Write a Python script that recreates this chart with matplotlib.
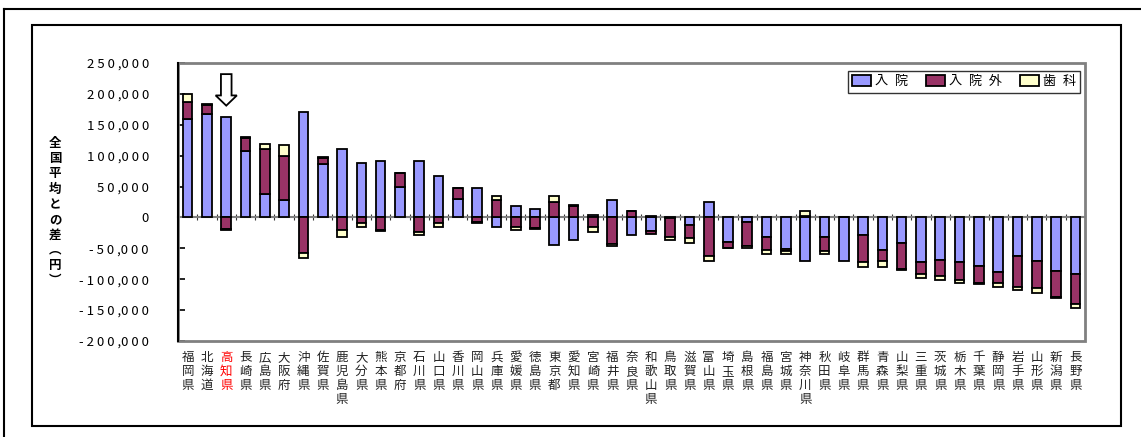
import matplotlib
matplotlib.use("Agg")
import matplotlib.pyplot as plt
import numpy as np
from matplotlib.patches import Rectangle, FancyArrow
from matplotlib.lines import Line2D
from matplotlib.ticker import FuncFormatter, MultipleLocator

plt.rcParams['font.family'] = ['Noto Sans CJK JP', 'DejaVu Sans']

prefectures = ['福岡県', '北海道', '高知県', '長崎県', '広島県', '大阪府', '沖縄県', '佐賀県',
               '鹿児島県', '大分県', '熊本県', '京都府', '石川県', '山口県', '香川県', '岡山県',
               '兵庫県', '愛媛県', '徳島県', '東京都', '愛知県', '宮崎県', '福井県', '奈良県',
               '和歌山県', '鳥取県', '滋賀県', '富山県', '埼玉県', '島根県', '福島県', '宮城県',
               '神奈川県', '秋田県', '岐阜県', '群馬県', '青森県', '山梨県', '三重県', '茨城県',
               '栃木県', '千葉県', '静岡県', '岩手県', '山形県', '新潟県', '長野県']

# 全国平均との差（円）
inpatient = [160000, 167000, 163000, 108000, 38000, 28000, 171000, 87000,
             111000, 88000, 91000, 49000, 91000, 67500, 30000, 47000,
             -16000, 18000, 13000, -44000, -37000, 4500, 28000, -28500,
             -22500, -500, -12500, 25500, -39500, -7500, -32000, -51000,
             -71000, -31000, -71000, -28500, -52500, -41500, -72500, -68500,
             -72500, -78500, -88000, -62000, -70000, -86000, -92000]
outpatient = [27000, 15000, -19000, 21000, 73000, 72000, -58000, 10000,
              -21000, -9000, -20000, 23000, -24000, -9500, 17000, -8000,
              27500, -16000, -17000, 25000, 18000, -16000, -42500, 10000,
              -3500, -31000, -21500, -63000, -10000, -38000, -20500, -3000,
              3000, -23500, 0, -44000, -18000, -42000, -19500, -27000,
              -28500, -28000, -18500, -51000, -44500, -43500, -48500]
dental = [13000, 2000, -1500, 500, 8000, 17000, -7000, 1500,
          -11000, -6000, -1500, 500, -4500, -6000, 1000, -1000,
          6500, -4000, -1500, 9000, 2000, -7500, -4500, 1000,
          2000, -5500, -7000, -7000, -500, -4500, -7000, -5000,
          7500, -5000, 0, -8000, -10000, -1500, -6000, -6000,
          -5500, -500, -5500, -4500, -8000, -1500, -5500]

series = [(inpatient, '#9999FF', '入\u2002院'),
          (outpatient, '#993366', '入\u2002院\u2002外'),
          (dental, '#FFFFCC', '歯\u2002科')]
highlight = '高知県'

fig = plt.figure(figsize=(11.41, 4.37), dpi=100)
ax = fig.add_axes([178 / 1141, 1 - 341 / 437, 907 / 1141, 278 / 437])

n = len(prefectures)
x = np.arange(n)
pos = np.zeros(n)
neg = np.zeros(n)
for vals, color, label in series:
    v = np.array(vals, dtype=float)
    bottom = np.where(v >= 0, pos, neg)
    ax.bar(x, v, width=0.5, bottom=bottom, color=color, edgecolor='black',
           linewidth=1.3, label=label, zorder=3)
    pos += np.clip(v, 0, None)
    neg += np.clip(v, None, 0)

ax.set_xlim(-0.5, n - 0.5)
ax.set_ylim(-200000, 250000)


def spaced(v, _):
    v = int(round(v))
    if v == 0:
        return '0'
    groups = f"{abs(v):,}".split(',')
    s = ' ,'.join(' '.join(g) for g in groups)
    return ('- ' if v < 0 else '') + s


ax.yaxis.set_major_locator(MultipleLocator(50000))
ax.yaxis.set_major_formatter(FuncFormatter(spaced))
ax.tick_params(axis='y', direction='in', length=5, width=1.2, pad=21,
               labelsize=9.5, colors='black')

# category axis sits on the zero line
ax.spines['bottom'].set_position(('data', 0))
ax.spines['bottom'].set_color('#808080')
ax.spines['bottom'].set_linewidth(1.5)
ax.set_xticks(np.arange(-0.5, n, 1.0))
ax.tick_params(axis='x', direction='inout', length=5, width=0.8, colors='#333333',
               labelbottom=False)
ax.spines['top'].set_visible(False)
ax.spines['right'].set_visible(False)
ax.spines['left'].set_color('black')
ax.spines['left'].set_linewidth(1.5)
ax.spines['left'].set_zorder(5)
ax.add_patch(Rectangle((0, 0), 1, 1, transform=ax.transAxes, fill=False,
                       edgecolor='#808080', linewidth=2, clip_on=False, zorder=4))

# vertical prefecture names under the plot
for i, name in enumerate(prefectures):
    ax.text(i, -0.035, '\n'.join(name), transform=ax.get_xaxis_transform(),
            ha='center', va='top', fontsize=9, linespacing=1.1,
            color='red' if name == highlight else '#222222')

fig.text(55 / 1141, 1 - 212 / 437, '\n'.join('全国平均との差︵円︶'),
         ha='center', va='center', fontsize=9, fontweight='bold', linespacing=1.22)

# hollow arrow pointing at the highlighted prefecture
k = prefectures.index(highlight)
ax.add_patch(FancyArrow(k, 232000, 0, -51000, width=0.55, head_width=1.1,
                        head_length=16500, length_includes_head=True,
                        facecolor='white', edgecolor='black', linewidth=1.3, zorder=6))

leg = ax.legend(loc='upper right', bbox_to_anchor=(0.995, 0.973), ncol=3,
                fontsize=9.5, frameon=True, fancybox=False, edgecolor='black',
                handlelength=1.4, handleheight=0.9, handletextpad=0.3,
                columnspacing=1.4, borderpad=0.35, borderaxespad=0)
leg.get_frame().set_linewidth(1.0)

# page frames
fig.add_artist(Line2D([4 / 1141, 1.0], [1 - 9 / 437, 1 - 9 / 437], color='black', lw=1.5))
fig.add_artist(Line2D([4 / 1141, 4 / 1141], [0.0, 1 - 9 / 437], color='black', lw=1.5))
fig.add_artist(Rectangle((32 / 1141, 1 - 426 / 437), (1121 - 32) / 1141, (426 - 25) / 437,
                         transform=fig.transFigure, fill=False, edgecolor='black', lw=1.5))

fig.savefig('out.png', dpi=100)
